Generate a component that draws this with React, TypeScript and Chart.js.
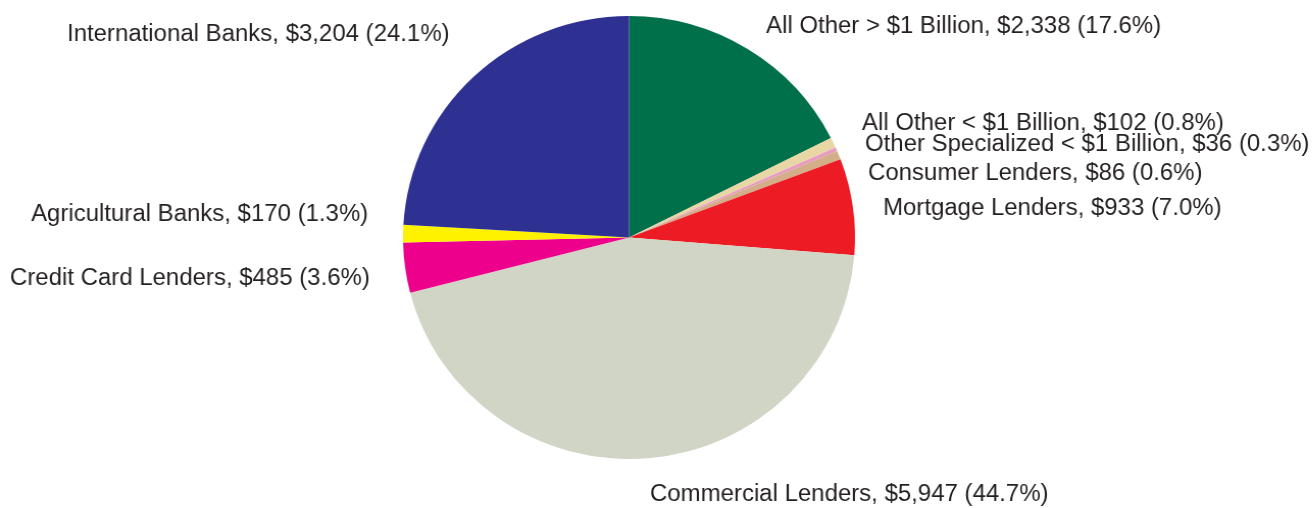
import React, { useEffect, useRef } from "react";
import { Chart, registerables } from "chart.js";

Chart.register(...registerables);

const categories = [
  "All Other > $1 Billion",
  "All Other < $1 Billion",
  "Other Specialized < $1 Billion",
  "Consumer Lenders",
  "Mortgage Lenders",
  "Commercial Lenders",
  "Credit Card Lenders",
  "Agricultural Banks",
  "International Banks",
];
const values = [2338, 102, 36, 86, 933, 5947, 485, 170, 3204];
const percents = ["17.6", "0.8", "0.3", "0.6", "7.0", "44.7", "3.6", "1.3", "24.1"];
const colors = [
  "#00704A",
  "#E9D6A5",
  "#E89BC2",
  "#D4AE88",
  "#ED1C24",
  "#D1D5C5",
  "#EC008C",
  "#FFF200",
  "#2E3192",
];
// label anchor positions (left x, middle y) in final page pixels
const labelPos: [number, number][] = [
  [766, 27],
  [862, 124],
  [865, 145],
  [868, 174],
  [883, 209],
  [650, 495],
  [10, 279],
  [31, 215],
  [67, 35],
];

const STRETCH = 452 / 443;
const CW = Math.round(1315 / STRETCH);

const fmt = (v: number) => "$" + v.toLocaleString("en-US");

const labelPlugin = {
  id: "sliceLabels",
  afterDraw(chart: any) {
    const ctx = chart.ctx;
    ctx.save();
    ctx.font = "23.5px 'Liberation Sans', Arial, sans-serif";
    ctx.fillStyle = "#231F20";
    ctx.textAlign = "left";
    ctx.textBaseline = "middle";
    categories.forEach((c, i) => {
      const [x, y] = labelPos[i];
      ctx.fillText(`${c}, ${fmt(values[i])} (${percents[i]}%)`, x / STRETCH, y);
    });
    ctx.restore();
  },
};

export default function App() {
  const ref = useRef<HTMLCanvasElement>(null);
  useEffect(() => {
    const chart = new Chart(ref.current!, {
      type: "pie",
      data: {
        labels: categories,
        datasets: [
          {
            data: values,
            backgroundColor: colors,
            borderWidth: 0,
          },
        ],
      },
      options: {
        animation: false,
        responsive: false,
        layout: { padding: { top: 16, bottom: 49, left: 0, right: CW - 1233 } },
        plugins: {
          legend: { display: false },
          tooltip: { enabled: false },
        },
      },
      plugins: [labelPlugin],
    });
    return () => chart.destroy();
  }, []);
  return (
    <div style={{ position: "fixed", left: 0, top: 0, width: 1315, height: 508, background: "#fff", overflow: "hidden" }}>
      <div style={{ width: CW, height: 508, transform: `scaleX(${STRETCH})`, transformOrigin: "0 0" }}>
        <canvas ref={ref} width={CW} height={508} />
      </div>
    </div>
  );
}
